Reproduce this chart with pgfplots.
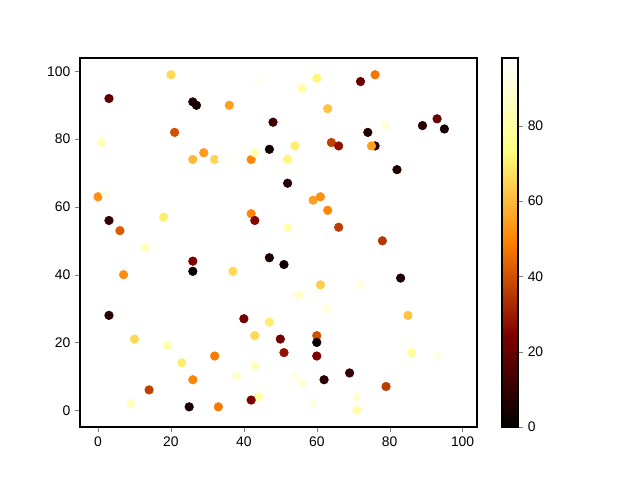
\documentclass[border=0pt]{standalone}
\usepackage{fontspec}
\setmainfont{Liberation Sans}
\usepackage{pgfplots}
\usepackage{pgfplotstable}
\pgfplotsset{compat=1.18}
\pgfplotstableread{
x y c
20 99 66
3 92 18
26 91 6
27 90 4
36 90 55
44 97 95
56 95 82
60 98 72
48 85 12
63 89 62
72 97 20
76 99 47
21 82 40
1 79 85
29 76 54
26 74 60
32 74 65
34 74 95
42 74 50
43 76 83
47 77 3
54 78 70
52 74 72
64 79 37
66 78 28
74 82 6
76 78 7
75 78 55
79 84 90
89 84 8
93 86 20
95 83 4
83 70 96
82 71 6
52 67 7
0 63 52
2 64 93
59 62 55
61 63 52
63 59 50
42 58 50
43 56 25
52 54 83
66 56 96
66 54 36
3 56 10
6 53 42
18 57 70
13 48 86
78 50 35
79 46 97
99 53 98
85 28 62
83 39 5
72 37 92
86 17 78
93 16 93
69 11 10
79 7 36
71 4 90
71 0 82
26 44 24
26 41 2
7 40 52
3 28 8
7 28 97
10 21 66
19 19 82
23 14 70
32 16 48
26 9 50
14 6 37
9 2 86
25 1 5
33 1 48
47 45 5
51 43 3
37 41 66
61 37 64
55 34 88
63 30 92
40 27 22
47 26 70
43 22 66
50 21 22
60 22 40
60 20 2
51 17 28
60 16 24
43 13 86
38 10 88
54 10 93
56 8 91
62 9 8
44 4 80
42 3 24
59 2 93
}\datatable
\begin{document}
\begin{tikzpicture}
\useasboundingbox (-57.6pt,-38.16pt) rectangle (403.2pt,307.44pt);
\begin{axis}[
  at={(0,0)}, anchor=south west,
  scale only axis,
  width=285.84pt, height=265.68pt,
  xmin=-4.95, xmax=103.95, ymin=-4.95, ymax=103.95,
  xtick={0,20,40,60,80,100}, ytick={0,20,40,60,80,100},
  tick align=outside, tick pos=left,
  major tick length=3.5pt,
  tick label style={font=\fontsize{10}{12}\selectfont},
  /pgf/number format/assume math mode=true,
  axis line style={line width=0.8pt},
  colormap={afmhot}{rgb=(0,0,0) rgb=(0.5,0,0) rgb=(1,0.5,0) rgb=(1,1,0.5) rgb=(1,1,1)},
  point meta min=0, point meta max=98,
  colorbar,
  colorbar shift/.style={xshift=18pt},
  colorbar style={
    at={(parent axis.north east)}, anchor=north west,
    width=11.52pt,
    ytick={0,20,40,60,80},
    major tick length=3.5pt,
    tick align=outside,
    ytick pos=right,
    yticklabel pos=right,
    yticklabel style={font=\fontsize{10}{12}\selectfont},
    /pgf/number format/assume math mode=true,
    axis line style={line width=0.8pt},
  },
]
\addplot[scatter, only marks, scatter src=explicit, mark=*, mark size=3.1pt,
  scatter/use mapped color={draw=mapped color, fill=mapped color}]
  table[x=x, y=y, meta=c] {\datatable};
\end{axis}
\end{tikzpicture}
\end{document}
